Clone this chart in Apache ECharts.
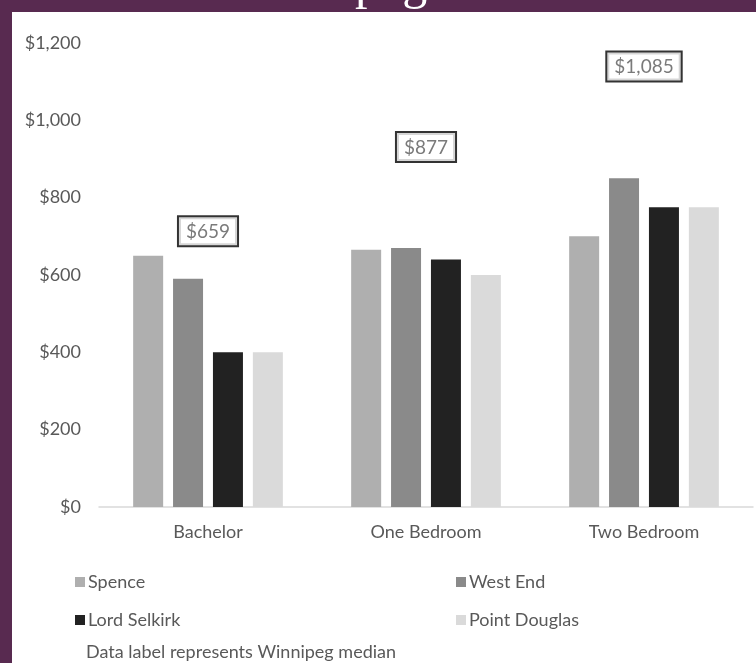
<!DOCTYPE html>
<html>
<head>
<meta charset="utf-8">
<script src="https://cdn.jsdelivr.net/npm/echarts@6/dist/echarts.min.js"></script>
<style>
html, body { margin: 0; padding: 0; background: #582a50; }
#rent-chart { width: 756px; height: 663px; }
</style>
</head>
<body>
<div id="rent-chart"></div>
<script>
// unit types
var categories = ['Bachelor', 'One Bedroom', 'Two Bedroom'];
// monthly rent by neighbourhood
var spence = [650, 665, 700];
var westEnd = [590, 670, 850];
var lordSelkirk = [400, 640, 775];
var pointDouglas = [400, 600, 775];
// Winnipeg median (data label)
var median = [659, 877, 1085];
var yTicks = [0, 200, 400, 600, 800, 1000, 1200];

var font = 'Lato';
var grey = '#595959';

function money(v) {
    return '$' + Number(v).toLocaleString('en-US');
}

var rentChart = echarts.init(document.getElementById('rent-chart'));

function barSeries(name, data, color) {
    return {
        name: name,
        type: 'bar',
        barWidth: 30,
        barGap: '33%',
        itemStyle: { color: color },
        data: data
    };
}

var rentOption = {
    backgroundColor: '#582a50',
    animation: false,
    textStyle: { fontFamily: font },
    graphic: [
        {
            type: 'text',
            left: 232, top: -40, z: -20,
            style: { text: 'Winnipeg', font: '50px "Liberation Serif"', fill: '#ffffff' }
        },
        {
            type: 'rect', left: 12, top: 12, z: -10,
            shape: { width: 744, height: 651 },
            style: { fill: '#ffffff' }
        },
        {
            type: 'text', left: 86, top: 643,
            style: { text: 'Data label represents Winnipeg median', font: '18px Lato', fill: grey }
        }
    ],
    grid: { left: 99, right: 3, top: 43, bottom: 156 },
    legend: [
        {
            data: ['Spence', 'Lord Selkirk'],
            orient: 'vertical', left: 70, top: 567,
            icon: 'rect', itemWidth: 10, itemHeight: 10, itemGap: 18,
            textStyle: { fontSize: 18, color: grey, fontFamily: font, lineHeight: 20, padding: [0, 0, 0, -2] }
        },
        {
            data: ['West End', 'Point Douglas'],
            orient: 'vertical', left: 451, top: 567,
            icon: 'rect', itemWidth: 10, itemHeight: 10, itemGap: 18,
            textStyle: { fontSize: 18, color: grey, fontFamily: font, lineHeight: 20, padding: [0, 0, 0, -2] }
        }
    ],
    xAxis: {
        type: 'category',
        data: categories,
        axisTick: { show: false },
        axisLine: { lineStyle: { color: '#d9d9d9', width: 1.5 } },
        axisLabel: { fontSize: 18, color: grey, margin: 16 }
    },
    yAxis: {
        type: 'value',
        min: yTicks[0],
        max: yTicks[yTicks.length - 1],
        interval: yTicks[1] - yTicks[0],
        splitLine: { show: false },
        axisLine: { show: false },
        axisTick: { show: false },
        axisLabel: { fontSize: 18, color: grey, margin: 18, formatter: money }
    },
    series: [
        barSeries('Spence', spence, '#afafaf'),
        barSeries('West End', westEnd, '#8a8a8a'),
        barSeries('Lord Selkirk', lordSelkirk, '#222222'),
        barSeries('Point Douglas', pointDouglas, '#dadada'),
        {
            name: 'Winnipeg median',
            type: 'scatter',
            symbolSize: 0,
            data: median,
            z: 5,
            label: {
                show: true,
                position: 'top',
                distance: 7,
                formatter: function (p) { return money(p.value); },
                fontSize: 19,
                color: grey,
                backgroundColor: '#ffffff',
                borderColor: '#000000',
                borderWidth: 2,
                padding: [5, 7, 4, 7]
            }
        }
    ]
};

rentChart.setOption(rentOption);
</script>
</body>
</html>
